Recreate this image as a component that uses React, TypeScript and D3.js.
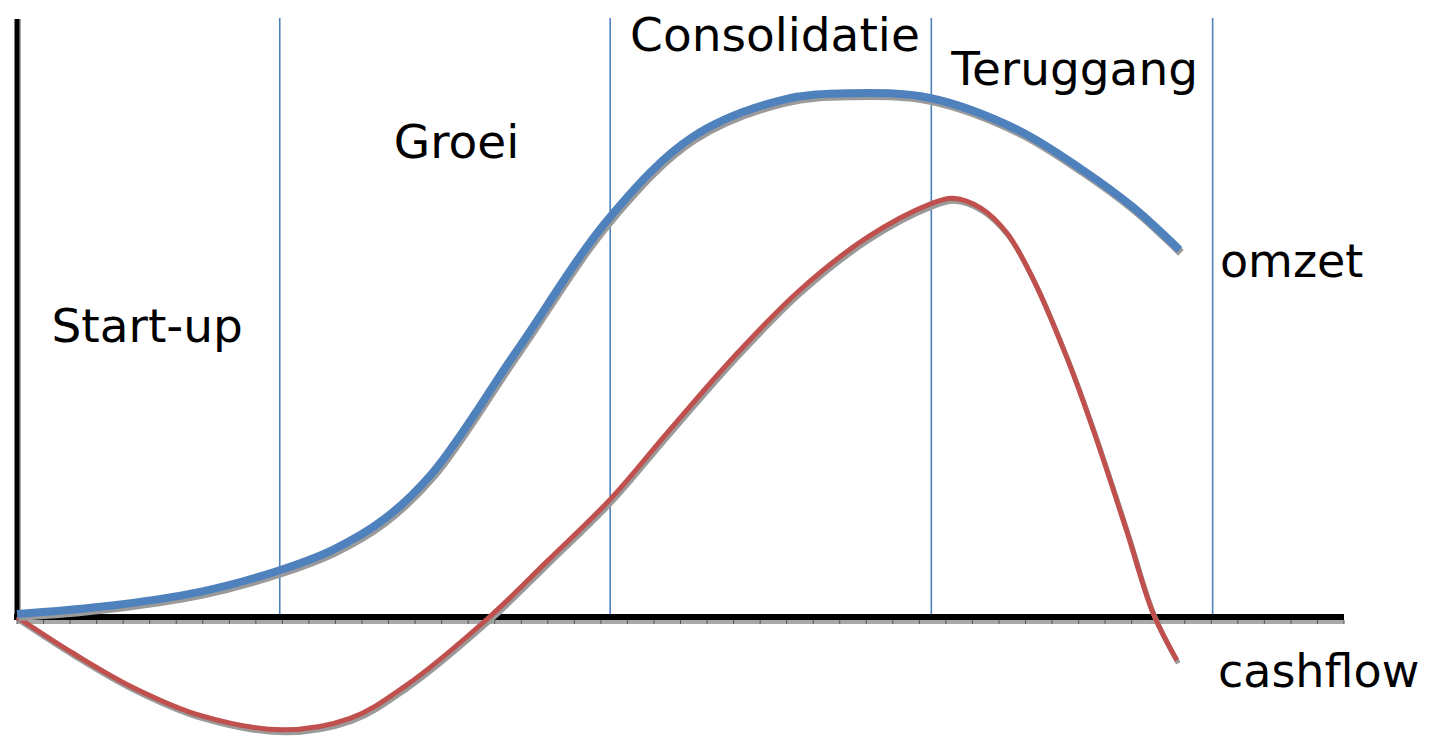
import { useEffect, useRef } from "react";
import * as d3 from "d3";

// phase boundaries (x in time units) and the phase labels
const phaseBounds = [19.8, 44.7, 68.9, 90.1];
const phaseLabels = ["Start-up", "Groei", "Consolidatie", "Teruggang"];
const phaseLabelX = [2.6, 28.4, 46.2, 70.4];
const phaseLabelY = [45.8, 76.5, 94.3, 88.7];

// omzet (revenue) curve
const omzetX = [0, 6.3, 13.8, 19.8, 23.8, 27.6, 31.3, 37.7, 44.7, 50.9, 57.7, 62.8, 68.8, 75.4, 80.3, 84.1, 87.6];
const omzetY = [0.5, 1.7, 4.2, 7.8, 11.2, 16.2, 24, 44.5, 66.7, 80, 86.2, 87.3, 86.5, 81.2, 74.5, 68.3, 61.2];

// cashflow curve
const cashX = [0, 4.2, 8.7, 13.8, 20, 25.1, 29.2, 35.6, 40, 44.7, 49, 54, 59, 64.1, 68.8, 70.5, 72.6, 74.6, 76.6, 79.1, 81.1, 83.6, 85.6, 87.4];
const cashY = [0, -6, -11.7, -16.4, -18.8, -16.9, -11.6, 0, 9.4, 19.6, 30.7, 43.3, 54.5, 63.3, 68.8, 69.8, 68.2, 64, 56.2, 43.3, 31.2, 14.5, 0.7, -7.2];

const seriesLabels = ["omzet", "cashflow"];
const seriesLabelX = [90.65, 90.5];
const seriesLabelY = [56.7, -11.7];

const W = 1430;
const H = 736;

export default function App() {
  const ref = useRef<SVGSVGElement | null>(null);

  useEffect(() => {
    if (!ref.current) return;
    ref.current.innerHTML = "";

    const x = d3.scaleLinear().domain([0, 100]).range([17, 1344]);
    const y = d3.scaleLinear().domain([-20, 100]).range([737, 17]);

    const svg = d3.select(ref.current);
    const font = "'DejaVu Sans', Verdana, sans-serif";

    // phase separators
    svg
      .append("g")
      .selectAll("line")
      .data(phaseBounds)
      .join("line")
      .attr("x1", (d) => x(d))
      .attr("x2", (d) => x(d))
      .attr("y1", y(100) + 1)
      .attr("y2", y(0))
      .attr("stroke", "#4f81bd")
      .attr("stroke-width", 1.6);

    // axis shadows with little tick marks
    const shadow = svg.append("g");
    shadow
      .append("line")
      .attr("x1", x(0))
      .attr("x2", x(100))
      .attr("y1", y(0) + 5)
      .attr("y2", y(0) + 5)
      .attr("stroke", "#a8a8a8")
      .attr("stroke-width", 4);
    shadow
      .append("line")
      .attr("x1", x(0) + 3)
      .attr("x2", x(0) + 3)
      .attr("y1", y(100) + 2)
      .attr("y2", y(0))
      .attr("stroke", "#a8a8a8")
      .attr("stroke-width", 2);
    shadow
      .selectAll("line.tick")
      .data(x.ticks(45))
      .join("line")
      .attr("class", "tick")
      .attr("x1", (d) => x(d))
      .attr("x2", (d) => x(d))
      .attr("y1", y(0) + 3)
      .attr("y2", y(0) + 7)
      .attr("stroke", "#555")
      .attr("stroke-width", 1);

    // axes
    svg
      .append("line")
      .attr("x1", x(0))
      .attr("x2", x(0))
      .attr("y1", y(100) + 2)
      .attr("y2", y(0) + 3)
      .attr("stroke", "#000")
      .attr("stroke-width", 5);
    svg
      .append("line")
      .attr("x1", x(0) - 3)
      .attr("x2", x(100))
      .attr("y1", y(0))
      .attr("y2", y(0))
      .attr("stroke", "#000")
      .attr("stroke-width", 6);

    const line = d3
      .line<[number, number]>()
      .x((d) => x(d[0]))
      .y((d) => y(d[1]))
      .curve(d3.curveCatmullRom.alpha(0.5));

    const omzet = omzetX.map((v, i) => [v, omzetY[i]] as [number, number]);
    const cash = cashX.map((v, i) => [v, cashY[i]] as [number, number]);

    const drawSeries = (pts: [number, number][], color: string, width: number) => {
      svg
        .append("path")
        .datum(pts)
        .attr("transform", "translate(1.5,3)")
        .attr("fill", "none")
        .attr("stroke", "#9a9a9a")
        .attr("stroke-width", width)
        .attr("d", line);
      svg
        .append("path")
        .datum(pts)
        .attr("fill", "none")
        .attr("stroke", color)
        .attr("stroke-width", width)
        .attr("d", line);
    };

    drawSeries(cash, "#c0504d", 5);
    drawSeries(omzet, "#4f81bd", 8);

    // phase labels
    svg
      .append("g")
      .selectAll("text")
      .data(phaseLabels)
      .join("text")
      .attr("x", (_, i) => x(phaseLabelX[i]))
      .attr("y", (_, i) => y(phaseLabelY[i]))
      .attr("font-family", font)
      .attr("font-size", 47)
      .attr("fill", "#000")
      .text((d) => d);

    // series labels
    svg
      .append("g")
      .selectAll("text")
      .data(seriesLabels)
      .join("text")
      .attr("x", (_, i) => x(seriesLabelX[i]))
      .attr("y", (_, i) => y(seriesLabelY[i]))
      .attr("font-family", font)
      .attr("font-size", 46)
      .attr("fill", "#000")
      .text((d) => d);
  }, []);

  return (
    <svg
      ref={ref}
      width={W}
      height={H}
      style={{ position: "absolute", left: 0, top: 0, background: "#fff" }}
    />
  );
}
